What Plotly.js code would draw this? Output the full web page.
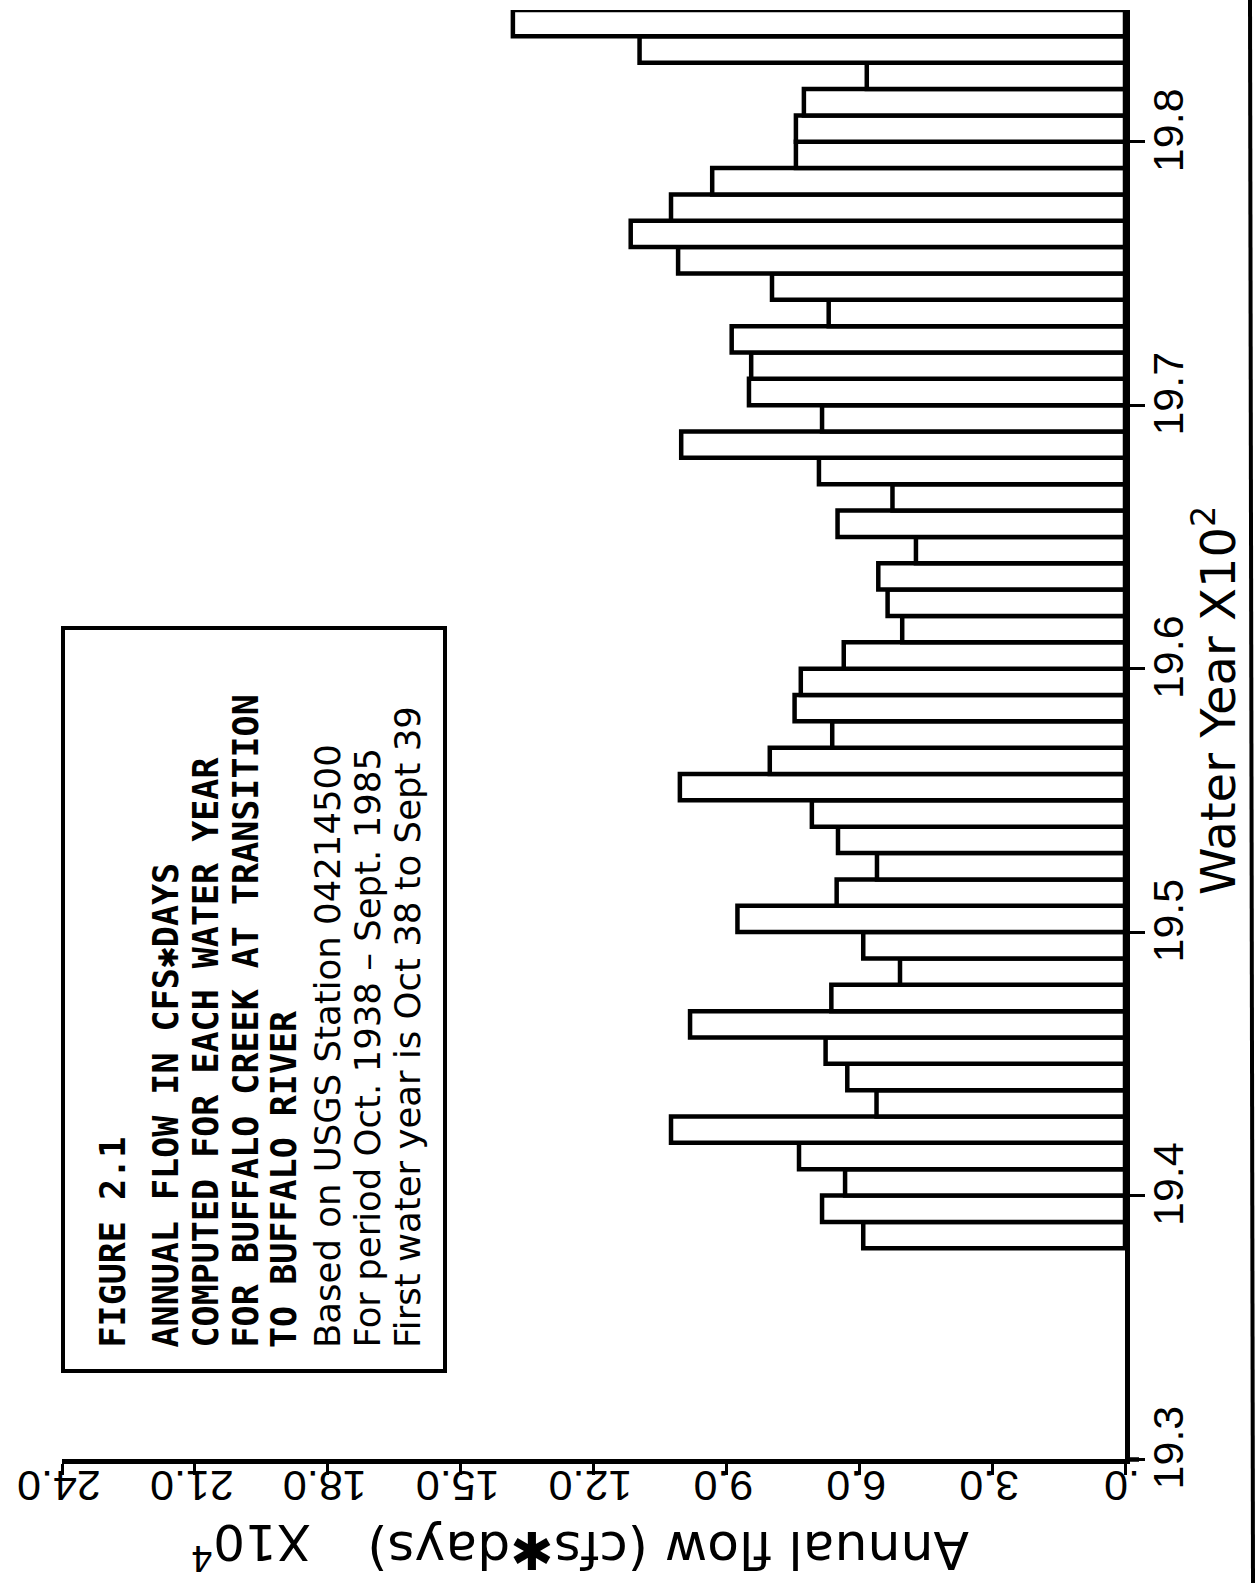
<!DOCTYPE html>
<html>
<head>
<meta charset="utf-8">
<script src="https://cdn.plot.ly/plotly-3.0.1.min.js"></script>
<style>
  html, body { margin: 0; padding: 0; background: #ffffff; }
  #chart { width: 1258px; height: 1583px; }
</style>
</head>
<body>
<div id="chart"></div>
<script>
// Annual flow (units of 10^4 cfs*days) for each water year,
// Buffalo Creek at transition to Buffalo River (USGS 04214500).
// Water year N runs from October of N-1 to September of N.
const waterYears = [
  1939, 1940, 1941, 1942, 1943, 1944, 1945, 1946, 1947, 1948,
  1949, 1950, 1951, 1952, 1953, 1954, 1955, 1956, 1957, 1958,
  1959, 1960, 1961, 1962, 1963, 1964, 1965, 1966, 1967, 1968,
  1969, 1970, 1971, 1972, 1973, 1974, 1975, 1976, 1977, 1978,
  1979, 1980, 1981, 1982, 1983, 1984, 1985
];
const annualFlow = [
  5.91, 6.84, 6.32, 7.36, 10.25, 5.61, 6.27, 6.76, 9.82, 6.63,
  5.08, 5.91, 8.75, 6.51, 5.60, 6.48, 7.07, 10.05, 8.02, 6.61,
  7.46, 7.32, 6.35, 5.03, 5.36, 5.57, 4.72, 6.49, 5.25, 6.91,
  10.02, 6.84, 8.49, 8.44, 8.88, 6.69, 7.97, 10.09, 11.16, 10.25,
  9.32, 7.43, 7.43, 7.25, 5.83, 10.96, 13.82
];

// Axis ticks
const yearTickVals = [1930, 1940, 1950, 1960, 1970, 1980];
const yearTickText = ['19.3', '19.4', '19.5', '19.6', '19.7', '19.8'];
const flowTickVals = [0, 3, 6, 9, 12, 15, 18, 21, 24];
const flowTickText = ['.0', '3.0', '6.0', '9.0', '12.0', '15.0', '18.0', '21.0', '24.0'];

// Figure caption lines
const captionLines = [
  'FIGURE 2.1',
  'ANNUAL FLOW IN CFS\u2731DAYS',
  'COMPUTED FOR EACH WATER YEAR',
  'FOR BUFFALO CREEK AT TRANSITION',
  'TO BUFFALO RIVER',
  'Based on USGS Station 04214500',
  'For period Oct. 1938 \u2013 Sept. 1985',
  'First water year is Oct 38 to Sept 39'
];
const captionBold = [true, true, true, true, true, false, false, false];

// ---- page geometry (pixels) ----
const W = 1258, H = 1583;
const M = { l: 62, r: 133, t: 10, b: 124 };
const PW = W - M.l - M.r, PH = H - M.t - M.b;
const px = x => (x - M.l) / PW;          // page x -> paper x
const py = y => (H - M.b - y) / PH;      // page y -> paper y

const INK = '#000000';
const SANS = 'DejaVu Sans, Liberation Sans, sans-serif';
const TICKFONT = 'Liberation Sans, Arial, sans-serif';

// Each water year is drawn as a block spanning the year before it.
const barCenters = waterYears.map(y => y - 0.5);

const trace = {
  type: 'bar',
  orientation: 'h',
  y: barCenters,
  x: annualFlow,
  width: 1,
  base: 0,
  marker: { color: '#ffffff', line: { color: INK, width: 4.5 } },
  hoverinfo: 'x+y',
  cliponaxis: false
};

// caption text, rotated to read bottom-to-top
const captionX = [112, 165, 205, 245, 284, 327, 367, 407];
const annotations = captionLines.map((t, i) => ({
  xref: 'paper', yref: 'paper',
  x: px(captionX[i]), y: py(1350),
  xanchor: 'center', yanchor: 'bottom',
  text: t, textangle: -90, showarrow: false,
  font: captionBold[i]
    ? { family: 'DejaVu Sans Mono, Liberation Mono, monospace', size: 35, color: INK, weight: 'bold' }
    : { family: SANS, size: 35.5, color: INK }
}));

annotations.push(
  {
    xref: 'paper', yref: 'paper', x: px(1215), y: py(701),
    xanchor: 'center', yanchor: 'middle',
    text: 'Water Year X10<sup>2</sup>', textangle: -90, showarrow: false,
    font: { family: SANS, size: 48, color: INK }
  },
  {
    xref: 'paper', yref: 'paper', x: px(668), y: py(1550),
    xanchor: 'center', yanchor: 'middle',
    text: 'Annual flow (cfs\u2731days)', textangle: 180, showarrow: false,
    font: { family: SANS, size: 52, color: INK }
  },
  {
    xref: 'paper', yref: 'paper', x: px(251), y: py(1546),
    xanchor: 'center', yanchor: 'middle',
    text: 'X10<sup>4</sup>', textangle: 180, showarrow: false,
    font: { family: SANS, size: 50, color: INK }
  }
);

const shapes = [
  // caption frame
  {
    type: 'rect', xref: 'paper', yref: 'paper',
    x0: px(63), x1: px(445), y0: py(1371), y1: py(628),
    line: { color: INK, width: 4 }, fillcolor: 'rgba(0,0,0,0)'
  },
  // page edge rule
  {
    type: 'line', xref: 'paper', yref: 'paper',
    x0: px(1250), x1: px(1253), y0: py(0), y1: py(1583),
    line: { color: INK, width: 4 }
  },
  // short run of the flow axis past the corner
  {
    type: 'line', xref: 'paper', yref: 'paper',
    x0: px(1125), x1: px(1139), y0: py(1459.5), y1: py(1459.5),
    line: { color: INK, width: 4.5 }
  }
];

const layout = {
  width: W, height: H,
  margin: { l: M.l, r: M.r, t: M.t, b: M.b, pad: 0 },
  paper_bgcolor: '#ffffff', plot_bgcolor: '#ffffff',
  showlegend: false,
  bargap: 0,
  xaxis: {
    range: [24, 0], autorange: false,
    tickmode: 'array', tickvals: flowTickVals, ticktext: flowTickText,
    ticks: 'outside', ticklen: 11, tickwidth: 3, tickcolor: INK,
    tickangle: 180, ticklabelshift: 3, ticklabelstandoff: -12,
    tickfont: { family: TICKFONT, size: 43, color: INK },
    showline: true, linecolor: INK, linewidth: 4.5,
    showgrid: false, zeroline: false, fixedrange: true
  },
  yaxis: {
    side: 'right', range: [1930, 1985], autorange: false,
    tickmode: 'array', tickvals: yearTickVals, ticktext: yearTickText,
    ticks: 'outside', ticklen: 15, tickwidth: 3, tickcolor: INK,
    tickangle: -90, ticklabelshift: -5, ticklabelstandoff: -13,
    tickfont: { family: TICKFONT, size: 43, color: INK },
    showline: true, linecolor: INK, linewidth: 4.5,
    showgrid: false, zeroline: false, fixedrange: true
  },
  annotations: annotations,
  shapes: shapes
};

Plotly.newPlot('chart', [trace], layout, { displayModeBar: false, staticPlot: true });
</script>
</body>
</html>
